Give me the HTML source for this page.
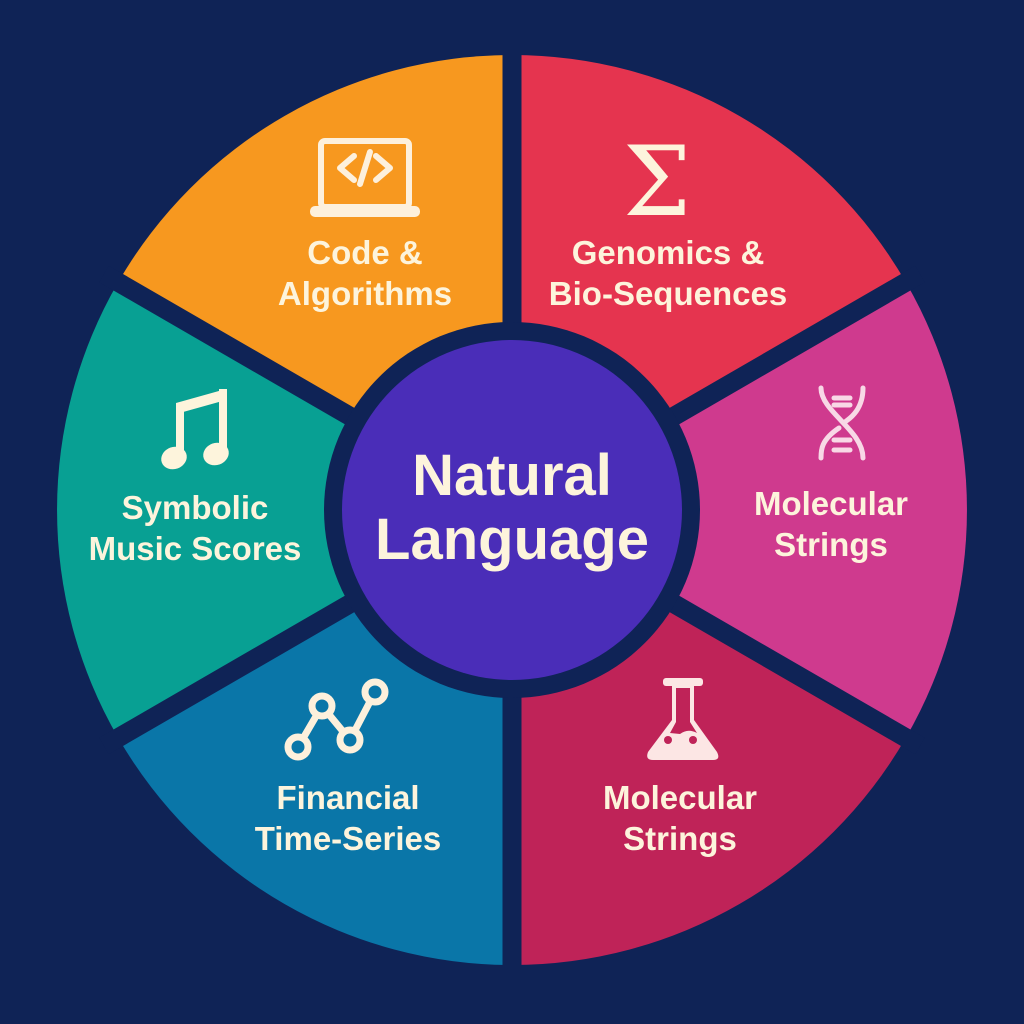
<!DOCTYPE html>
<html><head><meta charset="utf-8"><style>
html,body{margin:0;padding:0;background:#0F2356;}
svg{display:block}
text{font-family:"Liberation Sans",sans-serif;font-weight:bold;fill:#FDF4DC;text-anchor:middle}
</style></head><body>
<svg width="1024" height="1024" viewBox="0 0 1024 1024" xmlns="http://www.w3.org/2000/svg">
<rect width="1024" height="1024" fill="#0F2356"/>
<path d="M512,510 L118,282.5 A455,455 0 0 1 512,55 Z" fill="#F7981F"/>
<path d="M512,510 L512,55 A455,455 0 0 1 906,282.5 Z" fill="#E5344F"/>
<path d="M512,510 L906,282.5 A455,455 0 0 1 906,737.5 Z" fill="#CF3A8E"/>
<path d="M512,510 L906,737.5 A455,455 0 0 1 512,965 Z" fill="#BF2358"/>
<path d="M512,510 L512,965 A455,455 0 0 1 118,737.5 Z" fill="#0A76A8"/>
<path d="M512,510 L118,737.5 A455,455 0 0 1 118,282.5 Z" fill="#08A093"/>
<g stroke="#0F2356" stroke-width="19">
<line x1="512" y1="510" x2="512" y2="40"/>
<line x1="512" y1="510" x2="512" y2="980"/>
<line x1="512" y1="510" x2="920" y2="274"/>
<line x1="512" y1="510" x2="920" y2="746"/>
<line x1="512" y1="510" x2="104" y2="274"/>
<line x1="512" y1="510" x2="104" y2="746"/>
</g>
<circle cx="512" cy="510" r="188" fill="#0F2356"/>
<circle cx="512" cy="510" r="170" fill="#4A2DB8"/>
<text x="512" y="495" font-size="58">Natural</text>
<text x="512" y="559" font-size="58">Language</text>

<!-- laptop -->
<g fill="none" stroke="#FDF0DC" stroke-width="6" stroke-linecap="round" stroke-linejoin="round">
<rect x="321" y="141" width="88" height="66" rx="4"/>
<polyline points="354,156 340,168 354,180"/>
<polyline points="376,156 390,168 376,180"/>
<line x1="370" y1="152" x2="360" y2="184"/>
</g>
<rect x="310" y="206" width="110" height="11" rx="5" fill="#FDF0DC"/>
<text x="365" y="264" font-size="33">Code &amp;</text>
<text x="365" y="305" font-size="33">Algorithms</text>

<!-- sigma -->
<text x="657" y="215" font-size="96" style="font-family:'DejaVu Serif',serif;font-weight:normal" fill="#FDE8E0">Σ</text>
<text x="668" y="264" font-size="33">Genomics &amp;</text>
<text x="668" y="305" font-size="33">Bio-Sequences</text>

<!-- DNA -->
<g fill="none" stroke="#F8D8E6" stroke-width="5" stroke-linecap="round">
<path d="M821,388 C821,412 863,430 863,458"/>
<path d="M863,388 C863,412 847,420 845,422 M839,428 C821,440 821,450 821,458"/>
<line x1="834" y1="398" x2="850" y2="398"/>
<line x1="834" y1="405" x2="850" y2="405"/>
<line x1="834" y1="440" x2="850" y2="440"/>
<line x1="834" y1="450" x2="850" y2="450"/>
</g>
<text x="831" y="515" font-size="33">Molecular</text>
<text x="831" y="556" font-size="33">Strings</text>

<!-- music -->
<g fill="#FDF4DC">
<polygon points="176,403 226,389 226,400 176,414"/>
<rect x="176" y="403" width="8" height="56"/>
<rect x="219" y="389" width="8" height="66"/>
<ellipse cx="174" cy="458" rx="13" ry="11" transform="rotate(-20 174 458)"/>
<ellipse cx="216" cy="454" rx="13" ry="11" transform="rotate(-20 216 454)"/>
</g>
<text x="195" y="519" font-size="33">Symbolic</text>
<text x="195" y="560" font-size="33">Music Scores</text>

<!-- chart -->
<g fill="none" stroke="#FDF0DC" stroke-width="7">
<polyline points="298,747 322,706 350,740 375,692"/>
<circle cx="298" cy="747" r="10" fill="#0A76A8"/>
<circle cx="322" cy="706" r="10" fill="#0A76A8"/>
<circle cx="350" cy="740" r="10" fill="#0A76A8"/>
<circle cx="375" cy="692" r="10" fill="#0A76A8"/>
</g>
<text x="348" y="809" font-size="33">Financial</text>
<text x="348" y="850" font-size="33">Time-Series</text>

<!-- flask -->
<g fill="#FCE6E4">
<rect x="663" y="678" width="40" height="8" rx="3"/>
<path d="M667,686 L672,686 L672,720 L648,752 Q645,760 653,760 L713,760 Q721,760 717,752 L694,720 L694,686 L699,686 L699,686 Z"/>
</g>
<path d="M676,688 L690,688 L690,722 L697,733 Q688,728 680,734 L670,733 L676,722 Z" fill="#BF2358"/>
<circle cx="668" cy="740" r="4" fill="#BF2358"/>
<circle cx="693" cy="740" r="4" fill="#BF2358"/>
<text x="680" y="809" font-size="33">Molecular</text>
<text x="680" y="850" font-size="33">Strings</text>
</svg>
</body></html>
